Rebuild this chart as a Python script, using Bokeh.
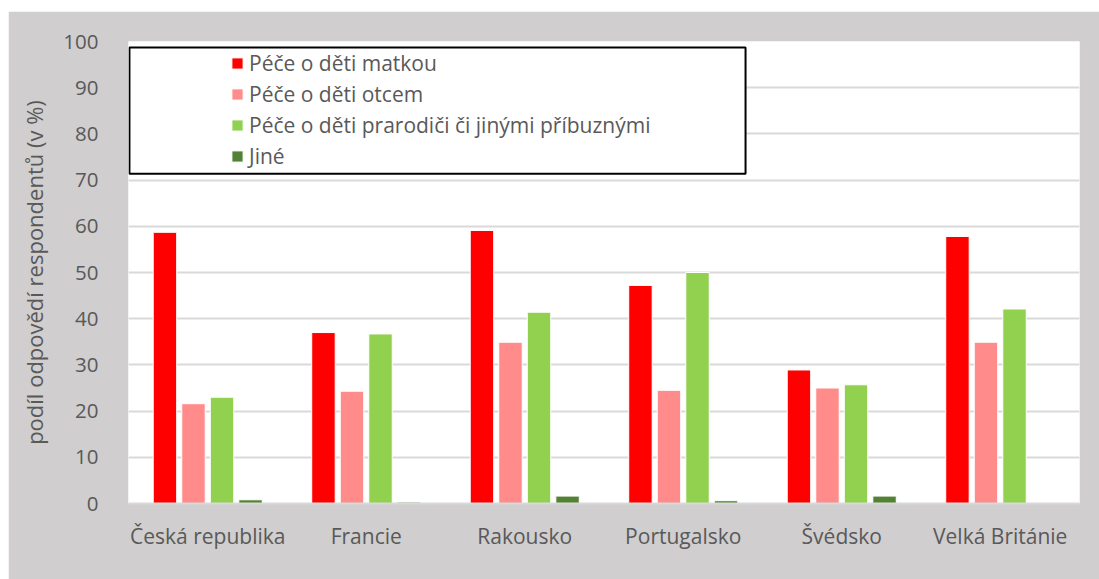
from bokeh.plotting import figure
from bokeh.models import ColumnDataSource, FactorRange, Range1d, Legend, LegendItem
from bokeh.transform import dodge
from bokeh.embed import file_html
from bokeh.resources import INLINE

countries = ["Česká republika", "Francie", "Rakousko", "Portugalsko", "Švédsko", "Velká Británie"]
series_names = ["Péče o děti matkou", "Péče o děti otcem",
                "Péče o děti prarodiči či jinými příbuznými", "Jiné"]
matkou = [58.7, 37.0, 59.1, 47.2, 28.9, 57.8]
otcem = [21.6, 24.3, 34.9, 24.5, 25.0, 34.9]
prarodici = [23.0, 36.7, 41.4, 50.0, 25.7, 42.1]
jine = [0.8, 0.3, 1.6, 0.6, 1.6, 0.0]
y_ticks = list(range(0, 101, 10))

colors = ["#ff0000", "#ff8b8b", "#92d050", "#548235"]
FONT = "Open Sans"
TXT = "#595959"
BG = "#d0cece"

src = ColumnDataSource(dict(x=countries, matkou=matkou, otcem=otcem,
                            prarodici=prarodici, jine=jine))

p = figure(x_range=FactorRange(*countries, range_padding=0), y_range=Range1d(0, 100),
           width=1091, height=568, output_backend="svg", toolbar_location=None,
           min_border_left=120, min_border_right=20, min_border_top=30, min_border_bottom=76)
p.margin = (11, 0, 0, 8)
p.border_fill_color = BG
p.background_fill_color = "white"
p.outline_line_color = None

# legend box
p.quad(left=[0.006], right=[3.893], top=[98.7], bottom=[71.4],
       fill_color="white", line_color="black", line_width=2)

keys = ["matkou", "otcem", "prarodici", "jine"]
offsets = [-0.27, -0.09, 0.09, 0.27]
renderers = []
for k, off, c in zip(keys, offsets, colors):
    r = p.vbar(x=dodge("x", off, range=p.x_range), top=k, width=0.148, source=src,
               fill_color=c, line_color="white", line_width=1)
    renderers.append(r)

legend = Legend(items=[LegendItem(label=n, renderers=[r]) for n, r in zip(series_names, renderers)],
                location=(102, 332), margin=0, padding=0, spacing=0,
                glyph_width=14, glyph_height=14, label_height=31, label_standoff=5,
                border_line_color=None, background_fill_alpha=0,
                label_text_font=FONT, label_text_font_size="21px", label_text_color=TXT)
p.add_layout(legend)

p.ygrid.grid_line_color = "#d9d9d9"
p.ygrid.grid_line_width = 2
p.xgrid.grid_line_color = None

p.yaxis.ticker = y_ticks
p.yaxis.axis_line_color = None
p.yaxis.major_tick_line_color = None
p.yaxis.minor_tick_line_color = None
p.yaxis.major_label_standoff = 24
p.yaxis.major_label_text_font = FONT
p.yaxis.major_label_text_font_size = "20.5px"
p.yaxis.major_label_text_color = TXT
p.yaxis.axis_label = "podíl odpovědí respondentů (v %)"
p.yaxis.axis_label_text_font = FONT
p.yaxis.axis_label_text_font_size = "22px"
p.yaxis.axis_label_text_font_style = "normal"
p.yaxis.axis_label_text_color = TXT
p.yaxis.axis_label_standoff = 11

p.xaxis.axis_line_color = "#d9d9d9"
p.xaxis.axis_line_width = 2
p.xaxis.major_tick_line_color = None
p.xaxis.minor_tick_line_color = None
p.xaxis.major_label_standoff = 12
p.xaxis.major_label_text_font = FONT
p.xaxis.major_label_text_font_size = "21px"
p.xaxis.major_label_text_color = TXT

open("out.html", "w").write(file_html(p, INLINE))
